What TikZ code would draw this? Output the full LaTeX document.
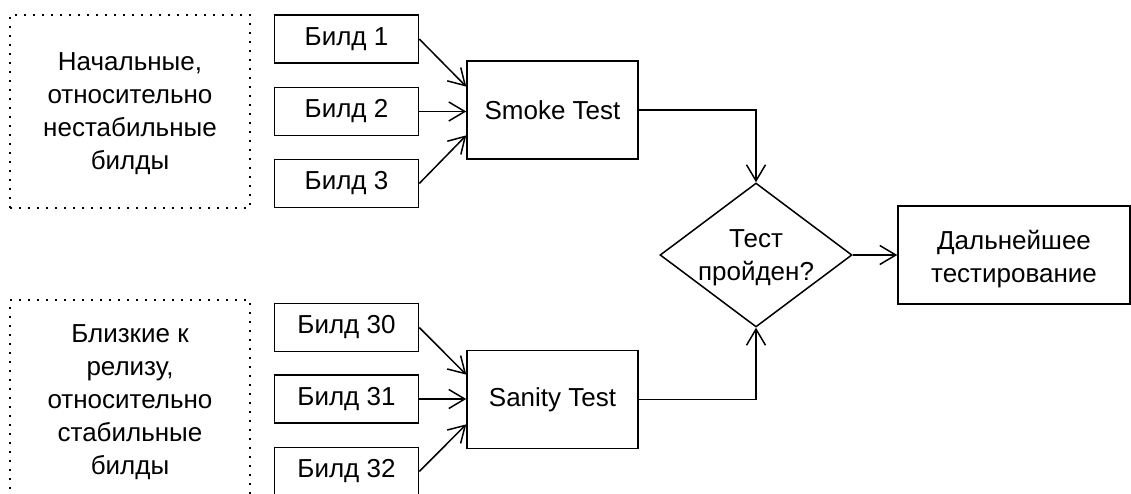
\documentclass[tikz,border=0pt]{standalone}
\usepackage{fontspec}
\setmainfont{Liberation Sans}
\usetikzlibrary{arrows.meta,shapes.geometric,calc}
\begin{document}
\begin{tikzpicture}[x=1pt,y=-1pt,
  every node/.style={font=\fontsize{26}{33}\selectfont, inner sep=0pt, align=center},
  build/.style={draw, line width=1.5pt, minimum width=144pt, minimum height=48pt},
  test/.style={draw, line width=1.5pt, minimum width=171pt, minimum height=98pt},
  group/.style={draw, line width=1.6pt, dash pattern=on 1.6pt off 7.4pt, minimum width=240pt},
  conn/.style={line width=1.5pt, -{Straight Barb[length=16pt,width=19pt,line width=1.5pt]}},
  plain/.style={line width=1.5pt}
]
\useasboundingbox (0,0) rectangle (1131,494);
\clip (0,0) rectangle (1131,494);
\fill[white] (0,0) rectangle (1131,494);

\node[group, minimum height=193pt] (g1) at (130,111.5) {};
\node (g1t) at (130,114) {Начальные,\\относительно\\нестабильные\\билды};
\node[group, minimum height=197pt] (g2) at (130,398.5) {};
\node (g2t) at (130,402) {Близкие к\\релизу,\\относительно\\стабильные\\билды};

\node[build] (b1) at (346.5,39) {Билд 1};
\node[build] (b2) at (346.5,111.5) {Билд 2};
\node[build] (b3) at (346.5,183.5) {Билд 3};
\node[build] (b30) at (346.5,327.5) {Билд 30};
\node[build] (b31) at (346.5,399) {Билд 31};
\node[build] (b32) at (346.5,471.5) {Билд 32};

\node[test] (smoke) at (552.5,110) {Smoke Test};
\node[test] (sanity) at (552.5,399.5) {Sanity Test};

\node[draw, line width=1.5pt, shape=diamond, minimum width=192pt, minimum height=144pt, aspect=1.333, inner sep=0pt] (dec) at (756,255) {};
\node (dect) at (756,258) {Тест\\пройден?};

\node[draw, line width=1.5pt, minimum width=232pt, minimum height=98pt] (next) at (1014,255) {};
\node (nextt) at (1014,259) {Дальнейшее\\тестирование};

\coordinate (s1) at ($(smoke.north west)!0.265!(smoke.south west)$);
\coordinate (s3) at ($(smoke.north west)!0.755!(smoke.south west)$);
\coordinate (t1) at ($(sanity.north west)!0.25!(sanity.south west)$);
\coordinate (t3) at ($(sanity.north west)!0.75!(sanity.south west)$);

\draw[conn] (b1.east) -- (s1);
\draw[conn] (b2.east) -- (b2.east -| smoke.west);
\draw[conn] (b3.east) -- (s3);
\draw[conn] (b30.east) -- (t1);
\draw[conn] (b31.east) -- (b31.east -| sanity.west);
\draw[conn] (b32.east) -- (t3);

\draw[conn] (smoke.east) -| (dec.north);
\draw[conn] (sanity.east) -| (dec.south);
\draw[conn] (dec.east) -- (next.west);
\end{tikzpicture}
\end{document}
